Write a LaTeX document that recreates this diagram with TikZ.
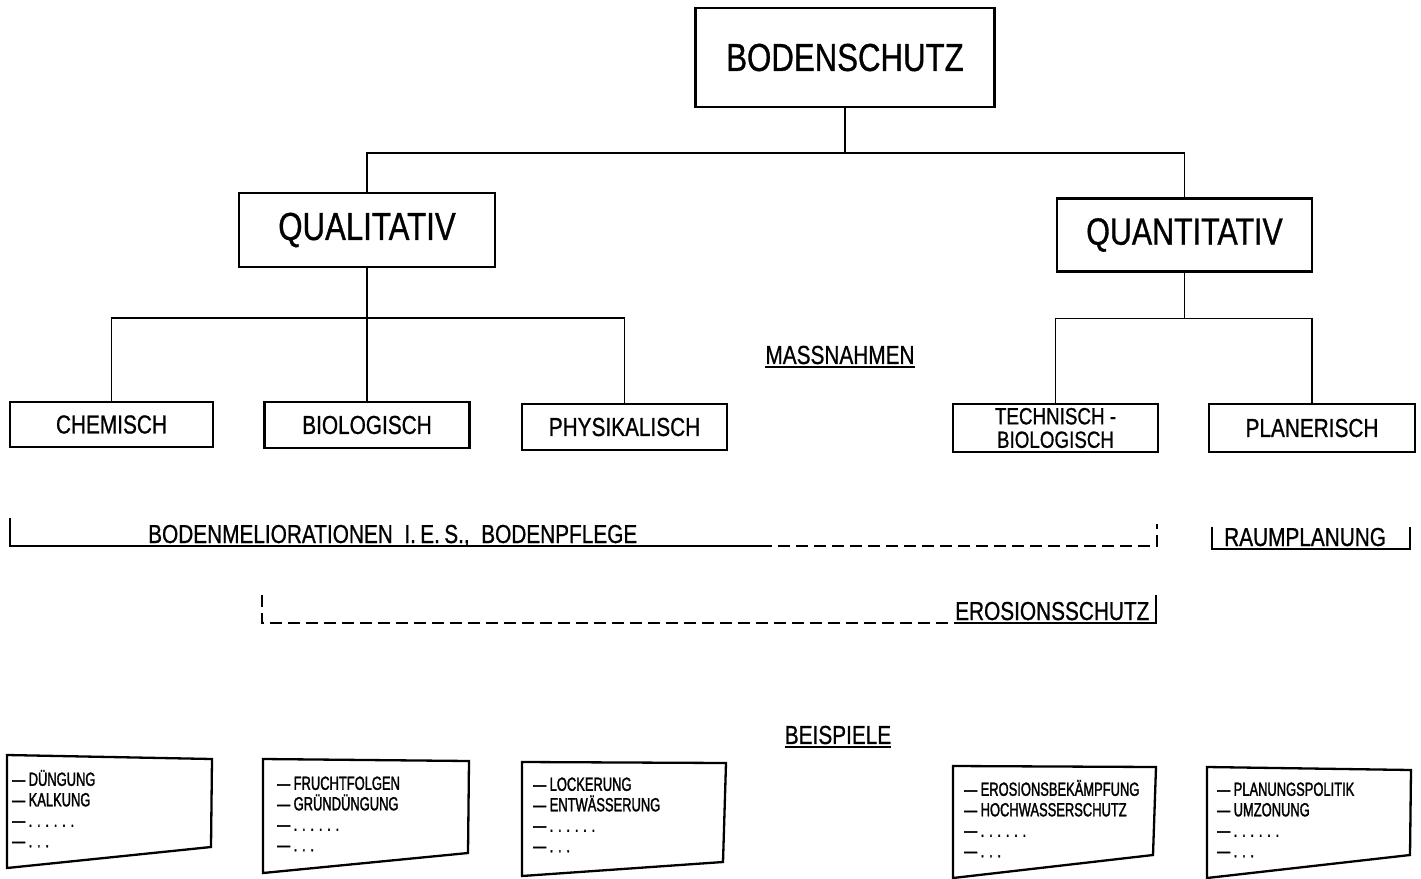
\documentclass[tikz,border=0pt]{standalone}
\usepackage{fontspec}
\setmainfont{Liberation Sans}[FakeStretch=0.8,FakeBold=0.8]
\newfontfamily\bspfont{Liberation Sans}[FakeStretch=0.68,FakeBold=1.6]
\begin{document}
\begin{tikzpicture}[x=1pt,y=-1pt,
	box/.style={draw,line width=2.3pt,inner sep=0pt},
	big/.style={box,font=\fontsize{39}{39}\selectfont},
	mid/.style={box,font=\fontsize{26}{20}\selectfont,minimum width=205pt,minimum height=46pt},
	lbl/.style={font=\fontsize{26}{26}\selectfont,inner sep=0pt},
	con/.style={line width=1.4pt},
	brk/.style={line width=1.9pt},
	dsh/.style={brk,dash pattern=on 12pt off 6pt},
	bsp/.style={anchor=north west,inner sep=0pt,align=left,font=\bspfont\fontsize{19}{20.5}\selectfont}]
	\useasboundingbox (0,0) rectangle (1421,878);
	% ebenen
	\node[big,minimum width=299pt,minimum height=99pt] (bs) at (845,57.5) {BODENSCHUTZ};
	\node[big,minimum width=256pt,minimum height=74pt] (qual) at (367,230) {QUALITATIV};
	\node[big,minimum width=255pt,minimum height=73pt,font=\fontsize{38}{38}\selectfont] (quant) at (1184.5,235) {QUANTITATIV};
	\node[mid,minimum width=203pt,minimum height=45pt] (chem) at (111.5,424.5) {CHEMISCH};
	\node[mid] (bio) at (367,425) {BIOLOGISCH};
	\node[mid] (phys) at (624.5,427) {PHYSIKALISCH};
	\node[mid,minimum height=48pt,align=center,font=\fontsize{23.5}{23.5}\selectfont] (tb) at (1055.5,428) {TECHNISCH -\\BIOLOGISCH};
	\node[mid,minimum width=206pt,minimum height=48pt] (plan) at (1312,428) {PLANERISCH};
	% verbindungen
	\draw[con] (bs.south) -- ++(0,45) coordinate (j1);
	\draw[con] (qual.north) |- (j1) -| (quant.north);
	\draw[con] (qual.south) -- ++(0,50) coordinate (j2);
	\draw[con] (chem.north) |- (j2) -| (phys.north) (j2) -- (bio.north);
	\draw[con] (quant.south) -- ++(0,46) coordinate (j3);
	\draw[con] (tb.north) |- (j3) -| (plan.north);
	% ueberschriften
	\node[lbl] (massn) at (840,355) {MASSNAHMEN};
	\draw[brk] ([yshift=-3pt]massn.south west) -- ([yshift=-3pt]massn.south east);
	\node[lbl] (beisp) at (838,735) {BEISPIELE};
	\draw[brk] ([yshift=-3pt]beisp.south west) -- ([yshift=-3pt]beisp.south east);
	% klammern
	\path
	(10,518) coordinate (m1)
	(10,546) coordinate (m2)
	(760,546) coordinate (m3)
	(1157,546) coordinate (m4)
	(1157,524) coordinate (m5)
	(262,595) coordinate (e1)
	(262,623) coordinate (e2)
	(955,623) coordinate (e3)
	(1156,623) coordinate (e4)
	(1156,595) coordinate (e5)
	(1212,527) coordinate (r1)
	(1212,549) coordinate (r2)
	(1410,549) coordinate (r3)
	(1410,527) coordinate (r4)
	;
	\draw[brk] (m1) -- (m2) -- (m3);
	\draw[dsh] (m3) -- (m4) -- (m5);
	\node[lbl,anchor=base west] (melio) at (148,543) {BODENMELIORATIONEN\ \ I.\,E.\,S.,\ \ BODENPFLEGE};
	\draw[brk] (r1) -- (r2) -- (r3) -- (r4);
	\node[lbl,anchor=base west] (raum) at (1224,546) {RAUMPLANUNG};
	\draw[dsh] (e1) -- (e2) -- (e3);
	\draw[brk] (e3) -- (e4) -- (e5);
	\node[lbl,anchor=base west] (eros) at (955,620) {EROSIONSSCHUTZ};
	% beispiele
	\foreach \n/\tl/\tr/\br/\bl/\tp/\txt in {
		bsp1/{(7,755)}/{(212,759)}/{(211,847)}/{(7,868)}/{(12,768.6)}/{— DÜNGUNG\\— KALKUNG},
		bsp2/{(263,759)}/{(469,761)}/{(468,853)}/{(263,873)}/{(277,772.6)}/{— FRUCHTFOLGEN\\— GRÜNDÜNGUNG},
		bsp3/{(522,762)}/{(726,763)}/{(723,862)}/{(522,876)}/{(533,773.6)}/{— LOCKERUNG\\— ENTWÄSSERUNG},
		bsp4/{(953,766)}/{(1156,767)}/{(1153,855)}/{(953,878)}/{(964,778.6)}/{— EROSIONSBEKÄMPFUNG\\— HOCHWASSERSCHUTZ},
		bsp5/{(1207,767)}/{(1411,770)}/{(1410,855)}/{(1207,878)}/{(1217,778.6)}/{— PLANUNGSPOLITIK\\— UMZONUNG}}
	{\draw[box] \tl -- \tr -- \br -- \bl -- cycle;
	\node[bsp] (\n) at \tp {\rule{0pt}{17pt}\txt\\— . . . . . .\\— . . .};}
\end{tikzpicture}
\end{document}
